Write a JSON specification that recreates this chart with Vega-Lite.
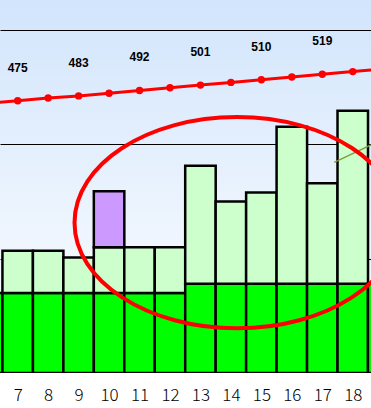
{
  "$schema": "https://vega.github.io/schema/vega-lite/v6.json",
  "width": 371,
  "height": 373,
  "autosize": "none",
  "padding": {"left": 0, "right": 0, "top": 0, "bottom": 35},
  "background": "#ffffff",
  "config": {
    "view": {
      "stroke": null,
      "fill": {"gradient": "linear", "x1": 0, "y1": 0, "x2": 0, "y2": 1,
        "stops": [{"offset": 0, "color": "#d2e5fc"}, {"offset": 1, "color": "#ffffff"}]}
    }
  },
  "datasets": {
    "bars": [
      {"cat": 6, "seg": 1, "part": "base", "value": 70},
      {"cat": 7, "seg": 1, "part": "base", "value": 70},
      {"cat": 7, "seg": 2, "part": "extra", "value": 37},
      {"cat": 8, "seg": 1, "part": "base", "value": 70},
      {"cat": 8, "seg": 2, "part": "extra", "value": 37},
      {"cat": 9, "seg": 1, "part": "base", "value": 70},
      {"cat": 9, "seg": 2, "part": "extra", "value": 31},
      {"cat": 10, "seg": 1, "part": "base", "value": 70},
      {"cat": 10, "seg": 2, "part": "extra", "value": 40},
      {"cat": 10, "seg": 3, "part": "special", "value": 49},
      {"cat": 11, "seg": 1, "part": "base", "value": 70},
      {"cat": 11, "seg": 2, "part": "extra", "value": 40},
      {"cat": 12, "seg": 1, "part": "base", "value": 70},
      {"cat": 12, "seg": 2, "part": "extra", "value": 40},
      {"cat": 13, "seg": 1, "part": "base", "value": 78},
      {"cat": 13, "seg": 2, "part": "extra", "value": 103.4},
      {"cat": 14, "seg": 1, "part": "base", "value": 78},
      {"cat": 14, "seg": 2, "part": "extra", "value": 72},
      {"cat": 15, "seg": 1, "part": "base", "value": 78},
      {"cat": 15, "seg": 2, "part": "extra", "value": 80},
      {"cat": 16, "seg": 1, "part": "base", "value": 78},
      {"cat": 16, "seg": 2, "part": "extra", "value": 137.5},
      {"cat": 17, "seg": 1, "part": "base", "value": 78},
      {"cat": 17, "seg": 2, "part": "extra", "value": 88},
      {"cat": 18, "seg": 1, "part": "base", "value": 78},
      {"cat": 18, "seg": 2, "part": "extra", "value": 151.5},
      {"cat": 19, "seg": 1, "part": "base", "value": 78}
    ],
    "trend": [
      {"cat": 6, "value": 470.5},
      {"cat": 7, "value": 475, "label": "475"},
      {"cat": 8, "value": 479.5},
      {"cat": 9, "value": 483, "label": "483"},
      {"cat": 10, "value": 487.5},
      {"cat": 11, "value": 492, "label": "492"},
      {"cat": 12, "value": 496.5},
      {"cat": 13, "value": 501, "label": "501"},
      {"cat": 14, "value": 505.5},
      {"cat": 15, "value": 510, "label": "510"},
      {"cat": 16, "value": 514.5},
      {"cat": 17, "value": 519, "label": "519"},
      {"cat": 18, "value": 523.5},
      {"cat": 19, "value": 528}
    ],
    "olive": [
      {"cat": 17.39, "value": 184.3},
      {"cat": 18.6, "value": 199.5}
    ],
    "ring": [
      {"cat": 14.2, "value": 131.5}
    ]
  },
  "encoding": {
    "x": {"field": "cat", "type": "quantitative",
      "scale": {"domain": [6.419, 18.599], "nice": false, "zero": false, "padding": 0},
      "axis": {"values": [7, 8, 9, 10, 11, 12, 13, 14, 15, 16, 17, 18], "title": null, "ticks": false, "domain": false, "grid": false,
        "labelFont": "Noto Sans CJK JP", "labelFontWeight": 300, "labelFontSize": 17, "labelColor": "#000000", "labelPadding": 14, "labelFlush": false, "labelOverlap": false, "labelBound": false}}
  },
  "layer": [
    {
      "layer": [
        {
          "data": {"name": "bars"},
          "mark": {"type": "bar", "width": 30.5, "stroke": "#000000", "strokeWidth": 2.5, "clip": true},
          "encoding": {
            "y": {"field": "value", "type": "quantitative", "stack": "zero",
              "scale": {"domain": [0, 326.3], "nice": false},
              "axis": {"values": [100, 200, 300], "grid": true, "gridColor": "#000000", "gridWidth": 1, "gridOpacity": 1,
                "labels": false, "ticks": false, "domain": false, "title": null}},
            "order": {"field": "seg", "type": "quantitative"},
            "color": {"field": "part", "type": "nominal",
              "scale": {"domain": ["base", "extra", "special"], "range": ["#00ff00", "#ccffcc", "#cc99ff"]},
              "legend": null},
            "opacity": {"value": 1}
          }
        },
        {
          "data": {"name": "olive"},
          "mark": {"type": "line", "color": "#7f9b3c", "strokeWidth": 1.3, "clip": true},
          "encoding": {
            "y": {"field": "value", "type": "quantitative"}
          }
        },
        {
          "data": {"name": "ring"},
          "mark": {"type": "point", "filled": false, "stroke": "#ff0000", "strokeWidth": 4, "opacity": 1, "clip": true,
            "shape": "M -1 0 C -1 -0.359 -0.552 -0.65 0 -0.65 C 0.552 -0.65 1 -0.359 1 0 C 1 0.359 0.552 0.65 0 0.65 C -0.552 0.65 -1 0.359 -1 0 Z",
            "size": 105625},
          "encoding": {
            "y": {"field": "value", "type": "quantitative"}
          }
        }
      ]
    },
    {
      "data": {"name": "trend"},
      "encoding": {
        "y": {"field": "value", "type": "quantitative", "scale": {"domain": [21.2, 642.8], "nice": false, "zero": false}, "axis": null}
      },
      "layer": [
        {
          "mark": {"type": "line", "color": "#ff0000", "strokeWidth": 3, "clip": true}
        },
        {
          "mark": {"type": "circle", "color": "#ff0000", "size": 55, "opacity": 1, "clip": true}
        },
        {
          "transform": [{"filter": "datum.label != null"}],
          "mark": {"type": "text", "font": "Liberation Sans", "fontWeight": "bold", "fontSize": 12, "color": "#000000", "baseline": "middle", "align": "center", "dy": -33, "clip": true},
          "encoding": {
            "text": {"field": "label", "type": "nominal"}
          }
        }
      ]
    }
  ],
  "resolve": {"scale": {"y": "independent"}}
}
